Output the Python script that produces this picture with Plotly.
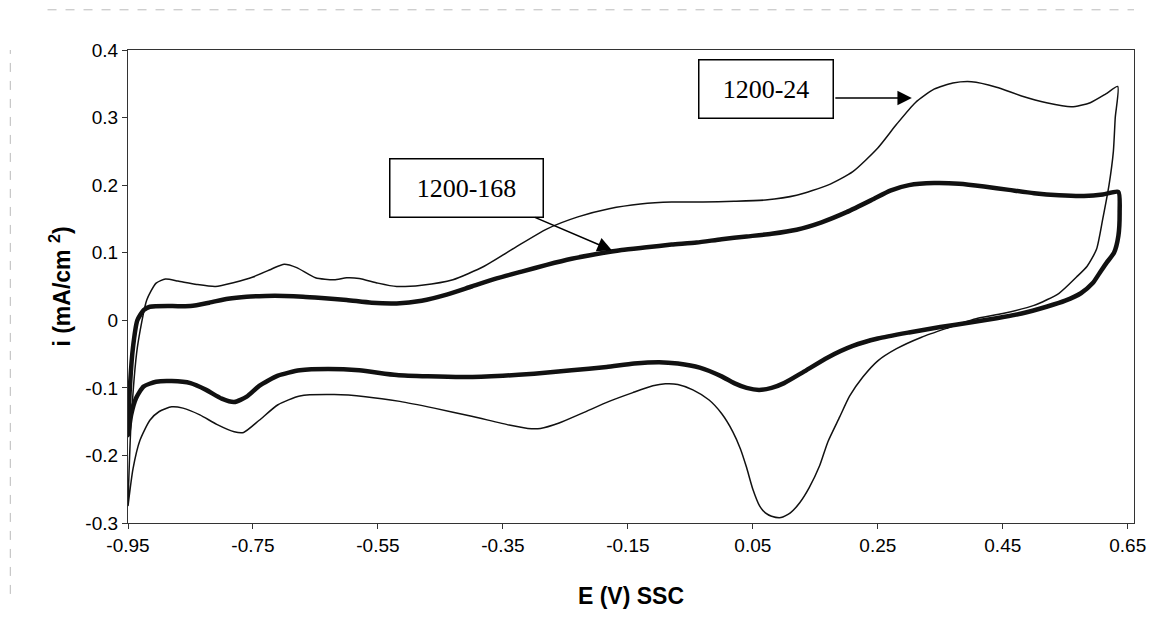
import plotly.graph_objects as go

# 1200-24 (thin) cyclic voltammogram: anodic sweep then cathodic sweep
E_24 = [-0.95, -0.945, -0.935, -0.92, -0.905, -0.89, -0.87, -0.84, -0.81, -0.78, -0.75, -0.72,
        -0.70, -0.68, -0.65, -0.62, -0.60, -0.58, -0.55, -0.52, -0.48, -0.43, -0.38, -0.33,
        -0.28, -0.23, -0.18, -0.13, -0.08, -0.03, 0.02, 0.07, 0.12, 0.17, 0.21, 0.25, 0.28,
        0.31, 0.34, 0.37, 0.40, 0.44, 0.48, 0.52, 0.56, 0.59, 0.615, 0.634,
        0.63, 0.627, 0.62, 0.61, 0.60, 0.585, 0.568, 0.54, 0.50, 0.45, 0.41, 0.36, 0.32, 0.28,
        0.25, 0.226, 0.205, 0.189, 0.17, 0.157, 0.14, 0.125, 0.11, 0.095, 0.08, 0.07, 0.061,
        0.05, 0.04, 0.03, 0.018, 0.0, -0.02, -0.046, -0.07, -0.09, -0.11, -0.142, -0.18,
        -0.222, -0.26, -0.29, -0.31, -0.34, -0.40, -0.46, -0.515, -0.57, -0.62, -0.675,
        -0.71, -0.74, -0.765, -0.78, -0.808, -0.835, -0.862, -0.88, -0.90, -0.915, -0.931,
        -0.942, -0.95]
i_24 = [-0.27, -0.15, -0.04, 0.03, 0.055, 0.061, 0.058, 0.053, 0.05, 0.056, 0.064, 0.076,
        0.083, 0.078, 0.063, 0.06, 0.063, 0.062, 0.055, 0.05, 0.052, 0.06, 0.08, 0.108,
        0.135, 0.153, 0.165, 0.172, 0.175, 0.175, 0.176, 0.178, 0.185, 0.2, 0.22, 0.255, 0.29,
        0.322, 0.342, 0.351, 0.353, 0.345, 0.332, 0.322, 0.316, 0.322, 0.335, 0.346,
        0.30, 0.25, 0.2, 0.15, 0.105, 0.08, 0.064, 0.04, 0.022, 0.01, 0.003, -0.012, -0.025,
        -0.042, -0.06, -0.084, -0.112, -0.143, -0.18, -0.215, -0.248, -0.27, -0.285, -0.292,
        -0.29, -0.285, -0.275, -0.25, -0.218, -0.19, -0.165, -0.138, -0.118, -0.103, -0.095,
        -0.094, -0.097, -0.107, -0.12, -0.137, -0.152, -0.16, -0.16, -0.155, -0.142, -0.13,
        -0.12, -0.113, -0.11, -0.112, -0.125, -0.148, -0.166, -0.165, -0.154, -0.14, -0.13,
        -0.128, -0.135, -0.148, -0.178, -0.22, -0.275]

# 1200-168 (thick)
E_168 = [-0.95, -0.947, -0.942, -0.935, -0.925, -0.915, -0.88, -0.85, -0.82, -0.79, -0.76,
         -0.73, -0.70, -0.67, -0.64, -0.60, -0.56, -0.52, -0.48, -0.44, -0.40, -0.36, -0.32,
         -0.28, -0.24, -0.20, -0.16, -0.12, -0.08, -0.04, 0.0, 0.04, 0.08, 0.12, 0.16, 0.20,
         0.24, 0.27, 0.30, 0.34, 0.38, 0.42, 0.46, 0.50, 0.54, 0.58, 0.61, 0.635,
         0.637, 0.635, 0.628, 0.616, 0.605, 0.594, 0.575, 0.55, 0.52, 0.48, 0.44, 0.40, 0.35,
         0.30, 0.25, 0.21, 0.17, 0.13, 0.10, 0.08, 0.06, 0.04, 0.02, 0.0, -0.035, -0.07,
         -0.10, -0.14, -0.184, -0.24, -0.30, -0.35, -0.41, -0.47, -0.52, -0.58, -0.63, -0.675,
         -0.71, -0.74, -0.76, -0.78, -0.80, -0.825, -0.85, -0.88, -0.905, -0.925, -0.937,
         -0.945, -0.95]
i_168 = [-0.17, -0.1, -0.04, 0.0, 0.015, 0.02, 0.021, 0.021, 0.026, 0.032, 0.035,
         0.036, 0.036, 0.035, 0.033, 0.03, 0.026, 0.025, 0.029, 0.038, 0.05, 0.062, 0.072,
         0.082, 0.091, 0.098, 0.104, 0.108, 0.112, 0.115, 0.12, 0.124, 0.128, 0.134, 0.145,
         0.16, 0.178, 0.192, 0.2, 0.203, 0.202, 0.198, 0.193, 0.188, 0.185, 0.184, 0.186, 0.19,
         0.16, 0.125, 0.1, 0.085, 0.07, 0.055, 0.04, 0.029, 0.02, 0.01, 0.003, -0.003, -0.01,
         -0.018, -0.027, -0.038, -0.055, -0.077, -0.093, -0.1, -0.103, -0.1, -0.093, -0.083,
         -0.07, -0.064, -0.062, -0.064, -0.069, -0.074, -0.079, -0.082, -0.084, -0.083, -0.081,
         -0.074, -0.072, -0.074, -0.082, -0.097, -0.113, -0.121, -0.116, -0.103, -0.093, -0.09,
         -0.091, -0.098, -0.115, -0.14, -0.17]

x_ticks = [-0.95, -0.75, -0.55, -0.35, -0.15, 0.05, 0.25, 0.45, 0.65]
x_tick_labels = ["-0.95", "-0.75", "-0.55", "-0.35", "-0.15", "0.05", "0.25", "0.45", "0.65"]
y_ticks = [-0.3, -0.2, -0.1, 0, 0.1, 0.2, 0.3, 0.4]
y_tick_labels = ["-0.3", "-0.2", "-0.1", "0", "0.1", "0.2", "0.3", "0.4"]

label_24 = "1200-24"
label_168 = "1200-168"

fig = go.Figure()
fig.add_trace(go.Scatter(x=E_24, y=i_24, mode="lines", name=label_24,
                         line=dict(color="#111111", width=1.5, shape="spline", smoothing=0.6)))
fig.add_trace(go.Scatter(x=E_168, y=i_168, mode="lines", name=label_168,
                         line=dict(color="#111111", width=4.5, shape="spline", smoothing=0.6)))

font_ax = "Liberation Sans, Arial, sans-serif"
fig.update_layout(
    width=1174, height=633,
    margin=dict(l=128, r=40, t=50, b=110),
    paper_bgcolor="white", plot_bgcolor="white",
    showlegend=False,
    font=dict(family=font_ax, color="black", size=19),
    xaxis=dict(range=[-0.95, 0.66], tickvals=x_ticks, ticktext=x_tick_labels,
               showgrid=False, zeroline=False, showline=True, linecolor="#333333",
               linewidth=1.2, mirror=True, ticks="outside", ticklen=5, tickcolor="#333333",
               tickfont=dict(size=19),
               title=dict(text="<b>E (V) SSC</b>", font=dict(size=23), standoff=32)),
    yaxis=dict(range=[-0.3, 0.4], tickvals=y_ticks, ticktext=y_tick_labels,
               showgrid=False, zeroline=False, showline=True, linecolor="#333333",
               linewidth=1.2, mirror=True, ticks="outside", ticklen=5, tickcolor="#333333",
               tickfont=dict(size=19),
               title=dict(text="<b>i (mA/cm <sup>2</sup>)</b>", font=dict(size=23), standoff=8)),
)

serif = "Liberation Serif, Times New Roman, serif"
# 1200-24: box, then a horizontal arrow leaving its right edge
fig.add_annotation(x=0.0708, y=0.342, xref="x", yref="y", text=label_24, showarrow=False,
                   font=dict(family=serif, size=26, color="black"),
                   bordercolor="black", borderwidth=1.5, borderpad=0, bgcolor="white",
                   width=133, height=57)
fig.add_annotation(x=0.3044, y=0.3289, ax=0.1796, ay=0.3289, xref="x", yref="y",
                   axref="x", ayref="y", text="", showarrow=True, arrowhead=2,
                   arrowsize=1.8, arrowwidth=1.6, arrowcolor="black")
# 1200-168: box with arrow from its lower-right edge
fig.add_annotation(x=-0.1756, y=0.1037, ax=-0.4084, ay=0.1956, xref="x", yref="y",
                   axref="x", ayref="y", text=label_168, showarrow=True, arrowhead=2,
                   arrowsize=1.8, arrowwidth=1.6, arrowcolor="black",
                   font=dict(family=serif, size=26, color="black"),
                   bordercolor="black", borderwidth=1.5, borderpad=0, bgcolor="white",
                   width=152, height=57)

# faint scan-edge lines
fig.add_shape(type="line", xref="paper", yref="paper", x0=-0.08, x1=1.0, y0=1.085, y1=1.085,
              line=dict(color="#bbbbbb", width=1, dash="dash"))
fig.add_shape(type="line", xref="paper", yref="paper", x0=-0.117, x1=-0.117, y0=-0.15, y1=1.0,
              line=dict(color="#bbbbbb", width=1, dash="dash"))

fig.write_html("out.html")
